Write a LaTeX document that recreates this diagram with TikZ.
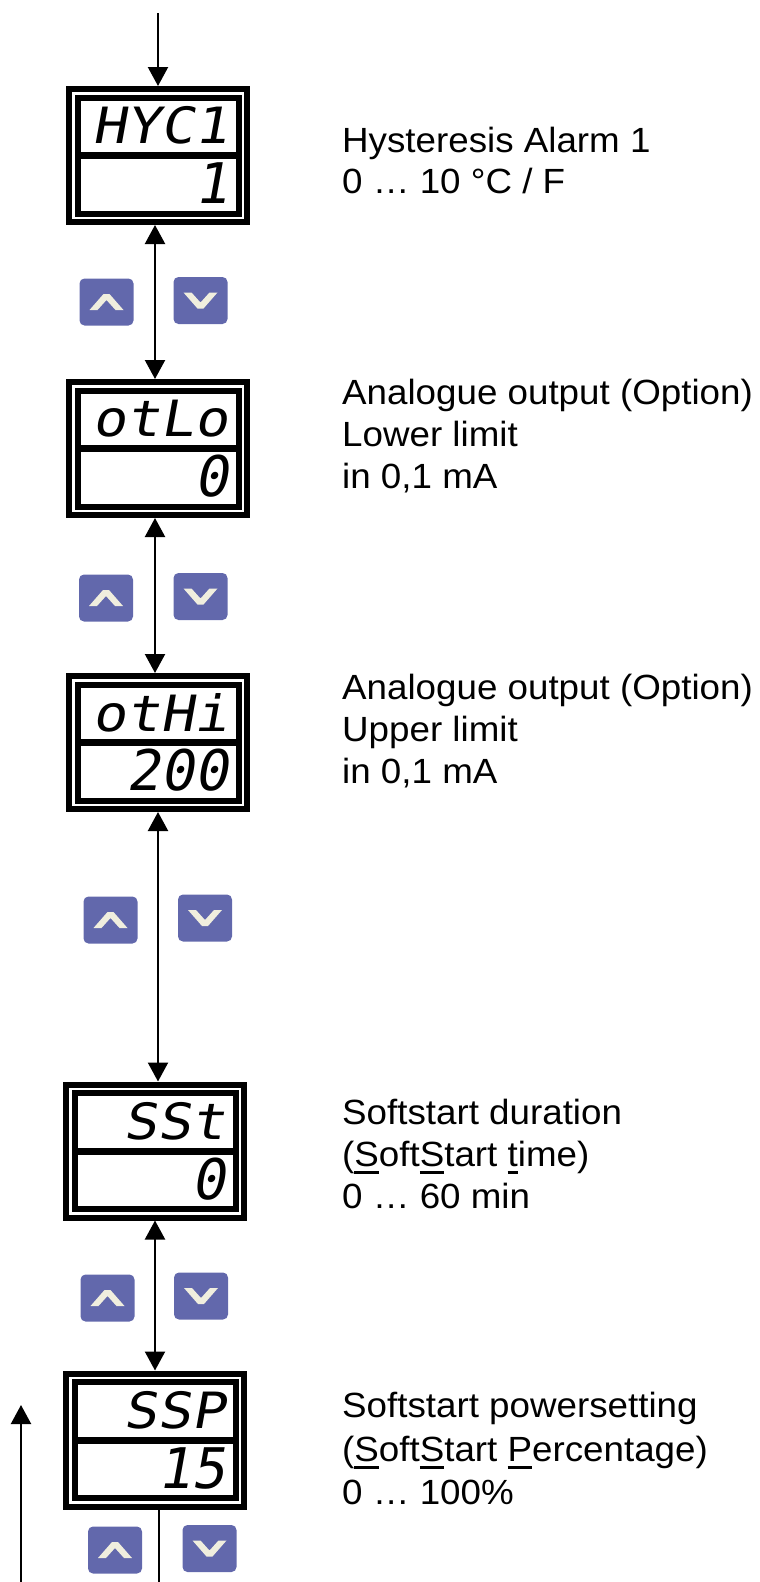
\documentclass[tikz,border=0pt]{standalone}
\usepackage{fontspec}
\setmainfont{Liberation Sans}[FakeStretch=1.05]
\newfontfamily\segtop{DejaVu Sans Mono}[FakeSlant=0.18,FakeStretch=1.12]
\newfontfamily\segbot{DejaVu Sans Mono}[FakeSlant=0.18]
\usetikzlibrary{arrows.meta}
\definecolor{btncol}{RGB}{98,104,172}
\definecolor{chevcol}{RGB}{240,238,222}
\newcommand\undl[1]{\setbox0\hbox{#1}\rlap{\rule[-7.5pt]{\wd0}{2.4pt}}\box0}
\newcommand\upchev[1]{\fill[chevcol] ([shift={(-17,8)}]#1.center) -- ([shift={(-3,-8)}]#1.center) -- ([shift={(3,-8)}]#1.center) -- ([shift={(17,8)}]#1.center) -- ([shift={(9,8)}]#1.center) -- ([shift={(0,-2)}]#1.center) -- ([shift={(-9,8)}]#1.center) -- cycle;}
\newcommand\dnchev[1]{\fill[chevcol] ([shift={(-17,-8)}]#1.center) -- ([shift={(-3,8)}]#1.center) -- ([shift={(3,8)}]#1.center) -- ([shift={(17,-8)}]#1.center) -- ([shift={(9,-8)}]#1.center) -- ([shift={(0,2)}]#1.center) -- ([shift={(-9,-8)}]#1.center) -- cycle;}
\tikzset{
  disp/.style={draw=black, line width=6pt, double=white, double distance=2.5pt, fill=white,
    minimum width=169.5pt, minimum height=124.5pt, inner sep=0pt, outer sep=7.25pt},
  toprow/.style={anchor=east, inner sep=0pt, font=\segtop\fontsize{50}{50}\selectfont},
  botrow/.style={anchor=east, inner sep=0pt, font=\segbot\fontsize{56}{56}\selectfont},
  btn/.style={fill=btncol, rounded corners=5pt, minimum width=54pt, minimum height=47pt, inner sep=0pt},
  txt/.style={anchor=base west, inner sep=0pt, font=\fontsize{35}{40}\selectfont},
  tipA/.tip={Triangle[length=19pt,width=20pt]},
  arr/.style={line width=2.2pt, -tipA},
  darr/.style={line width=2.2pt, tipA-tipA},
  divl/.style={line width=7pt}
}
\begin{document}
\begin{tikzpicture}[x=1pt,y=-1pt]
\useasboundingbox (0,0) rectangle (760,1582);
% displays
\node[disp] (d1) at (158,155.5) {};
\node[disp] (d2) at (158,448.5) {};
\node[disp] (d3) at (158,742.5) {};
\node[disp] (d4) at (155,1151) {};
\node[disp] (d5) at (155,1440) {};
\foreach \d in {d1,d2,d3,d4,d5}{
  \draw[divl] ([xshift=12pt]\d.west) -- ([xshift=-12pt]\d.east);
}
% display texts
\node[toprow] (d1t) at ([shift={(70,-30)}]d1.center) {HYC1};
\node[botrow] (d1b) at ([shift={(70,28)}]d1.center) {1};
\node[toprow] (d2t) at ([shift={(70,-30)}]d2.center) {otLo};
\node[botrow] (d2b) at ([shift={(70,28)}]d2.center) {0};
\node[toprow] (d3t) at ([shift={(70,-30)}]d3.center) {otHi};
\node[botrow] (d3b) at ([shift={(70,28)}]d3.center) {200};
\node[toprow] (d4t) at ([shift={(70,-30)}]d4.center) {SSt};
\node[botrow] (d4b) at ([shift={(70,28)}]d4.center) {0};
\node[toprow] (d5t) at ([shift={(70,-30)}]d5.center) {SSP};
\node[botrow] (d5b) at ([shift={(70,28)}]d5.center) {15};
% buttons
\node[btn] (u1) at (106.5,302) {};
\node[btn] (v1) at (200.5,300.5) {};
\node[btn] (u2) at (106,598) {};
\node[btn] (v2) at (200.5,596.5) {};
\node[btn] (u3) at (110.5,920) {};
\node[btn] (v3) at (205,918) {};
\node[btn] (u4) at (107.5,1298) {};
\node[btn] (v4) at (201,1296) {};
\node[btn] (u5) at (115,1550) {};
\node[btn] (v5) at (209.5,1548.5) {};
\foreach \b in {u1,u2,u3,u4,u5}{\upchev{\b}}
\foreach \b in {v1,v2,v3,v4,v5}{\dnchev{\b}}
% connectors
\coordinate (top) at (158,13);
\coordinate (bot) at (159,1582);
\coordinate (lb) at (21,1582);
\coordinate (lt) at (21,1405);
\draw[arr] (top) -- (d1.north);
\draw[darr] ([xshift=-3pt]d1.south) -- ([xshift=-3pt]d2.north);
\draw[darr] ([xshift=-3pt]d2.south) -- ([xshift=-3pt]d3.north);
\draw[darr] (d3.south) -- (d3.south |- d4.north);
\draw[darr] (d4.south) -- (d5.north);
\draw[line width=2.2pt] ([xshift=4pt]d5.south) -- (bot);
\draw[arr] (lb) -- (lt);
% descriptions
\node[txt] (h1a) at (342,152) {Hysteresis Alarm 1};
\node[txt] (h1b) at (342,193) {0 … 10 °C / F};
\node[txt] (h2a) at (342,404) {Analogue output (Option)};
\node[txt] (h2b) at (342,446) {Lower limit};
\node[txt] (h2c) at (342,488) {in 0,1 mA};
\node[txt] (h3a) at (342,699) {Analogue output (Option)};
\node[txt] (h3b) at (342,741) {Upper limit};
\node[txt] (h3c) at (342,783) {in 0,1 mA};
\node[txt] (h4a) at (342,1124) {Softstart duration};
\node[txt] (h4b) at (342,1166) {(\undl{S}oft\undl{S}tart \undl{t}ime)};
\node[txt] (h4c) at (342,1208) {0 … 60 min};
\node[txt] (h5a) at (342,1417) {Softstart powersetting};
\node[txt] (h5b) at (342,1461) {(\undl{S}oft\undl{S}tart \undl{P}ercentage)};
\node[txt] (h5c) at (342,1504) {0 … 100\%};
\end{tikzpicture}
\end{document}
